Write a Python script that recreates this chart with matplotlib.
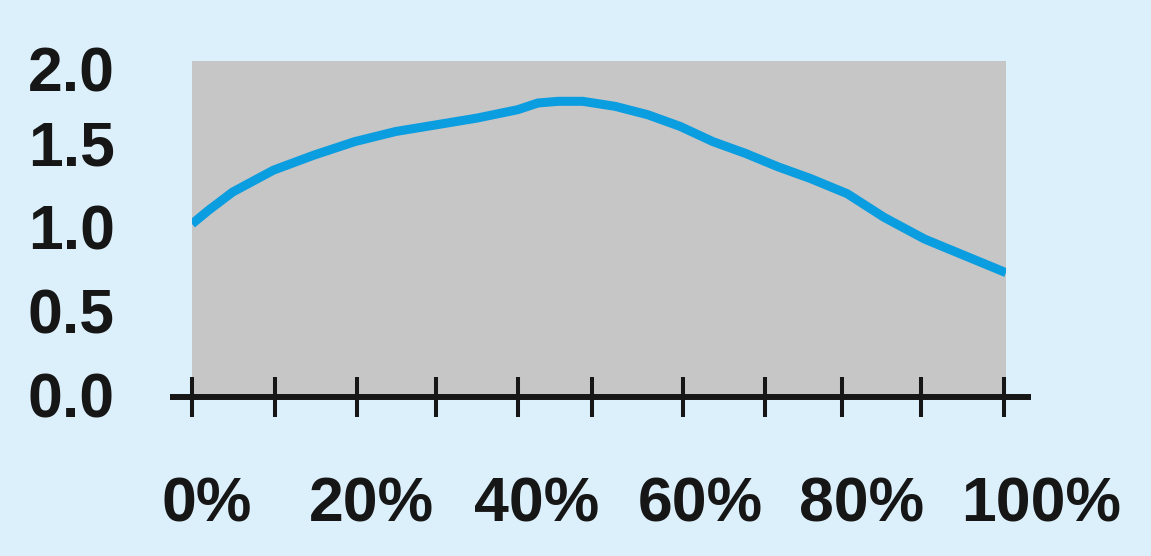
import matplotlib
matplotlib.use('Agg')
import matplotlib.pyplot as plt
import matplotlib.transforms as mtransforms

# Veri: yatay eksen yuzde, dikey eksen deger
x_pct = [0, 2, 5, 10, 15, 20, 25, 30, 35, 40, 42.5, 45, 48, 52, 56, 60,
         64, 68, 72, 76, 80.5, 85, 90, 95, 100]
y_val = [1.03, 1.11, 1.22, 1.35, 1.44, 1.52, 1.58, 1.62, 1.66, 1.71, 1.75, 1.76,
         1.76, 1.73, 1.68, 1.61, 1.52, 1.45, 1.37, 1.30, 1.21, 1.07, 0.94, 0.84, 0.74]

# Eksen cizgisi uzerindeki isaretler (elle cizilmis gibi biraz duzensiz)
tick_pos = [0, 10.2, 20.3, 30.0, 40.0, 49.1, 60.3, 70.4, 79.9, 89.6, 99.8]

x_labels = ['0%', '20%', '40%', '60%', '80%', '100%']
x_label_pos = [1.8, 22.1, 42.3, 62.4, 82.3, 104.3]

y_labels = ['0.0', '0.5', '1.0', '1.5', '2.0']
y_label_pos = [0.0, 0.5, 1.0, 1.5, 1.94]

BG = '#dcf0fb'
PANEL = '#c6c6c6'
LINE = '#0a9de0'
INK = '#161616'

fig = plt.figure(figsize=(11.51, 5.56), dpi=100, facecolor=BG)
ax = fig.add_axes([0.1668, 0.286, 0.7072, 0.6043])
ax.set_facecolor(PANEL)

ax.plot(x_pct, y_val, color=LINE, linewidth=6.5, solid_capstyle='butt',
        solid_joinstyle='round')

ax.set_xlim(0, 100)
ax.set_ylim(0, 2)
for s in ax.spines.values():
    s.set_visible(False)

# alt eksen cizgisi, alanin disina tasar
ax.plot([-0.027, 1.031], [0, 0], transform=ax.transAxes, color=INK,
        linewidth=4.3, clip_on=False, solid_capstyle='butt')

ax.set_xticks(tick_pos)
ax.set_yticks([])
ax.tick_params(axis='x', direction='inout', length=29, width=2.9, color=INK,
               labelbottom=False)

font = dict(family='Liberation Sans', fontsize=45, fontweight='bold', color=INK)

# x etiketleri: x veri, y eksen kesri
trans_x = mtransforms.blended_transform_factory(ax.transData, ax.transAxes)
for pos, lab in zip(x_label_pos, x_labels):
    ax.text(pos, -0.372, lab, transform=trans_x, ha='center', va='baseline',
            clip_on=False, **font)

# y etiketleri: x eksen kesri, y veri
trans_y = mtransforms.blended_transform_factory(ax.transAxes, ax.transData)
for pos, lab in zip(y_label_pos, y_labels):
    ax.text(-0.0946, pos - 0.12, lab, transform=trans_y, ha='right', va='baseline',
            clip_on=False, **font)

fig.savefig('out.png', dpi=100, facecolor=BG)
plt.close(fig)
